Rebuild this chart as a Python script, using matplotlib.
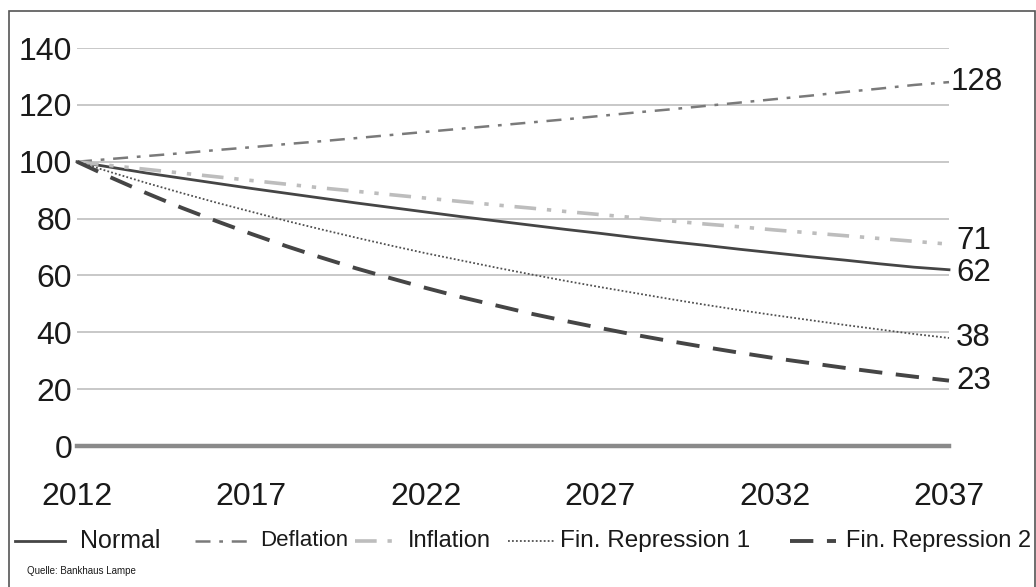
import matplotlib
matplotlib.use("Agg")
import matplotlib.pyplot as plt
from matplotlib.lines import Line2D
from matplotlib.patches import Rectangle

plt.rcParams['font.family'] = ['Liberation Sans', 'DejaVu Sans']

years = list(range(2012, 2038))
normal = [100, 98, 96, 94.2, 92.4, 90.6, 88.9, 87.2, 85.5, 83.9, 82.3, 80.7, 79.2,
          77.7, 76.2, 74.8, 73.3, 71.9, 70.6, 69.2, 67.9, 66.6, 65.4, 64.1, 62.9, 62]
deflation = [100, 101, 102, 103, 104.1, 105.1, 106.2, 107.2, 108.3, 109.4, 110.5, 111.6,
             112.7, 113.8, 114.9, 116.1, 117.3, 118.4, 119.6, 120.8, 122, 123.2, 124.5,
             125.7, 127, 128]
inflation = [100, 98.6, 97.3, 96, 94.7, 93.4, 92.1, 90.8, 89.6, 88.4, 87.2, 86, 84.8,
             83.7, 82.5, 81.4, 80.3, 79.2, 78.1, 77.1, 76, 75, 74, 73, 72, 71]
fin_rep1 = [100, 96.2, 92.5, 89, 85.6, 82.4, 79.2, 76.2, 73.3, 70.5, 67.8, 65.3, 62.8,
            60.4, 58.1, 55.9, 53.8, 51.7, 49.7, 47.8, 46, 44.3, 42.6, 41, 39.4, 38]
fin_rep2 = [100, 94.3, 88.9, 83.8, 79.1, 74.6, 70.3, 66.3, 62.5, 59, 55.6, 52.4, 49.5,
            46.6, 44, 41.5, 39.1, 36.9, 34.8, 32.8, 30.9, 29.2, 27.5, 25.9, 24.4, 23]
series_names = ["Normal", "Deflation", "Inflation", "Fin. Repression 1", "Fin. Repression 2"]
x_ticks = [2012, 2017, 2022, 2027, 2032, 2037]
y_ticks = [0, 20, 40, 60, 80, 100, 120, 140]
source = "Quelle: Bankhaus Lampe"

W, H = 1036, 587
fig = plt.figure(figsize=(W / 100, H / 100), dpi=100)
fig.patch.set_facecolor("white")

def fx(px):
    return px / W

def fy(py):
    return 1 - py / H

ax_left, ax_right, ax_top, ax_bottom = 77, 949, 48, 446
ax = fig.add_axes([fx(ax_left), fy(ax_bottom), fx(ax_right - ax_left), (ax_bottom - ax_top) / H])
ax.set_xlim(2012, 2037)
ax.set_ylim(0, 140)
for s in ax.spines.values():
    s.set_visible(False)

for v in y_ticks[1:]:
    ax.axhline(v, color="#c4c4c4", lw=1.3, zorder=1)
ax.axhline(0, color="#8a8a8a", lw=3.2, zorder=1, clip_on=False)

styles = {
    "Normal": dict(color="#454545", lw=2.0, ls="-"),
    "Deflation": dict(color="#7a7a7a", lw=1.8, ls=(0, (6, 3.5, 1.5, 3.5))),
    "Inflation": dict(color="#bdbdbd", lw=2.6, ls=(0, (6, 3, 1.2, 3, 1.2, 3))),
    "Fin. Repression 1": dict(color="#505050", lw=1.3, ls=(0, (1, 1.2))),
    "Fin. Repression 2": dict(color="#454545", lw=2.8, ls=(0, (6, 3.5))),
}
# end-label nudges (points) so neighbouring values stay apart
label_shift = {
    "Normal": (5, -2.5),
    "Deflation": (1, 0),
    "Inflation": (5, 2.5),
    "Fin. Repression 1": (5, 0),
    "Fin. Repression 2": (5, 0),
}
data = dict(zip(series_names, [normal, deflation, inflation, fin_rep1, fin_rep2]))
for name in series_names:
    ax.plot(years, data[name], zorder=3, clip_on=False, **styles[name])
    ax.annotate(f"{data[name][-1]:.0f}", (years[-1], data[name][-1]),
                xytext=label_shift[name], textcoords="offset points", va="center", ha="left",
                fontsize=22.5, color="#1a1a1a", annotation_clip=False)

ax.set_yticks(y_ticks)
ax.set_xticks(x_ticks)
ax.tick_params(axis="y", length=0, pad=3.5, labelsize=23, labelcolor="#1a1a1a")
ax.tick_params(axis="x", length=0, pad=26, labelsize=23, labelcolor="#1a1a1a")

# legend row drawn in figure pixels
leg_y = 541
leg_items = [
    ("Normal", 15, 65, 80, 18),
    ("Deflation", 195, 255, 260, 16),
    ("Inflation", 355, 402, 408, 17),
    ("Fin. Repression 1", 508, 555, 560, 17.5),
    ("Fin. Repression 2", 790, 836, 846, 17),
]
for name, x0, x1, tx, fs in leg_items:
    st = styles[name]
    fig.add_artist(Line2D([fx(x0), fx(x1)], [fy(leg_y), fy(leg_y)], transform=fig.transFigure,
                          color=st["color"], lw=st["lw"], ls=st["ls"]))
    fig.text(fx(tx), fy(leg_y), name, fontsize=fs, va="center", ha="left", color="#1a1a1a")

fig.text(fx(27), fy(571), source, fontsize=7, va="center", ha="left", color="#1a1a1a")

fig.add_artist(Rectangle((fx(9), fy(H + 5)), fx(1035 - 9), (H + 5 - 11) / H,
                         transform=fig.transFigure, fill=False, edgecolor="#555555", lw=1.2))

fig.savefig("out.png", dpi=100)
